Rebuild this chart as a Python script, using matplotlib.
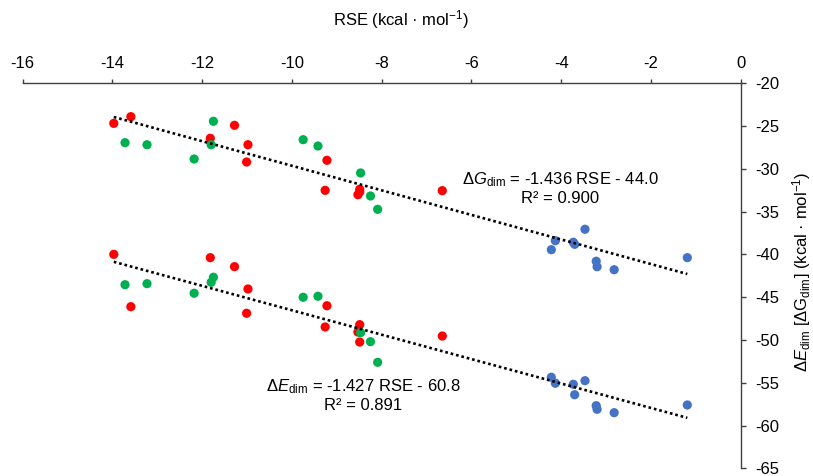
import matplotlib
matplotlib.use("Agg")
import matplotlib.pyplot as plt
import numpy as np

plt.rcParams['font.family'] = ['Liberation Sans', 'DejaVu Sans']
plt.rcParams['mathtext.fontset'] = 'custom'
plt.rcParams['mathtext.rm'] = 'Liberation Sans'
plt.rcParams['mathtext.it'] = 'Liberation Sans:italic'
plt.rcParams['mathtext.bf'] = 'Liberation Sans:bold'

# ---- data ----
red_rse = [-13.97, -13.59, -11.82, -11.28, -10.98, -11.01, -9.22, -9.26, -8.49, -8.53, -8.49, -6.65]
red_dG = [-24.68, -23.90, -26.43, -24.91, -27.18, -29.20, -29.00, -32.51, -32.39, -33.02, -32.70, -32.55]
red_dE = [-39.99, -46.11, -40.38, -41.43, -44.04, -46.88, -46.00, -48.48, -48.21, -49.07, -50.24, -49.54]

green_rse = [-13.72, -13.23, -11.75, -11.80, -12.18, -9.75, -9.42, -8.47, -8.25, -8.09]
green_dG = [-26.94, -27.18, -24.44, -27.18, -28.85, -26.59, -27.33, -30.48, -33.17, -34.73]
green_dE = [-43.54, -43.42, -42.67, -43.26, -44.54, -45.01, -44.89, -49.15, -50.20, -52.61]

blue_rse = [-4.22, -4.13, -3.73, -3.70, -3.47, -3.22, -3.20, -2.82, -1.19]
blue_dG = [-39.45, -38.40, -38.58, -38.82, -37.06, -40.80, -41.44, -41.79, -40.38]
blue_dE = [-54.36, -55.06, -55.18, -56.40, -54.76, -57.68, -58.10, -58.50, -57.60]

fit_dG = (-1.436, -44.0)
fit_dE = (-1.427, -60.8)

xticks = [-16, -14, -12, -10, -8, -6, -4, -2, 0]
yticks = [-20, -25, -30, -35, -40, -45, -50, -55, -60, -65]

# ---- figure ----
W, H = 813, 476
fig = plt.figure(figsize=(W / 100, H / 100), dpi=100)
left, right, top, bottom = 22.7, 740.7, 83.3, 468.3
ax = fig.add_axes([left / W, 1 - bottom / H, (right - left) / W, (bottom - top) / H])
ax.set_xlim(-16, 0)
ax.set_ylim(-65, -20)

cols = {'red': '#FF0000', 'green': '#00B050', 'blue': '#4472C4'}
ms = 44
for rse, g, e, c in [(red_rse, red_dG, red_dE, cols['red']),
                     (green_rse, green_dG, green_dE, cols['green']),
                     (blue_rse, blue_dG, blue_dE, cols['blue'])]:
    ax.scatter(rse, g, s=ms, color=c, edgecolors='none', zorder=3)
    ax.scatter(rse, e, s=ms, color=c, edgecolors='none', zorder=3)

all_x = np.array(red_rse + green_rse + blue_rse)
xx = np.linspace(all_x.min(), all_x.max(), 50)
for m, b in (fit_dG, fit_dE):
    ax.plot(xx, m * xx + b, color='black', lw=1.9, linestyle=(0, (1, 1.1)), zorder=4)

# spines / ticks
for s in ('left', 'bottom'):
    ax.spines[s].set_visible(False)
for s in ('top', 'right'):
    ax.spines[s].set_color('#404040')
    ax.spines[s].set_linewidth(1.0)
ax.xaxis.tick_top()
ax.yaxis.tick_right()
ax.set_xticks(xticks)
ax.set_yticks(yticks)
ax.set_xticklabels([str(t) for t in xticks])
ax.set_yticklabels([str(t) for t in yticks])
ax.tick_params(axis='x', direction='out', length=3, width=1, color='#404040', pad=6, labelsize=12, labelcolor='#000000')
ax.tick_params(axis='y', direction='out', length=3.5, width=1, color='#404040', pad=7, labelsize=12, labelcolor='#000000')

fs = 12
fig.text(401 / W, 1 - 20 / H, 'RSE (kcal · mol$^{\\mathregular{-1}}$)', ha='center', va='center', fontsize=fs)
fig.text(802 / W, 1 - 272 / H, '$\\Delta\\mathit{E}_{\\mathregular{dim}}$ [$\\Delta$G$_{\\mathregular{dim}}$] (kcal · mol$^{\\mathregular{-1}}$)',
         ha='center', va='center', rotation=90, fontsize=fs)

fig.text(560 / W, 1 - 180 / H, '$\\Delta\\mathit{G}_{\\mathregular{dim}}$ = -1.436 RSE - 44.0', ha='center', va='center', fontsize=fs)
fig.text(560 / W, 1 - 198 / H, 'R² = 0.900', ha='center', va='center', fontsize=fs)
fig.text(363 / W, 1 - 387 / H, '$\\Delta\\mathit{E}_{\\mathregular{dim}}$ = -1.427 RSE - 60.8', ha='center', va='center', fontsize=fs)
fig.text(363 / W, 1 - 405 / H, 'R² = 0.891', ha='center', va='center', fontsize=fs)

fig.savefig('out.png', dpi=100)
